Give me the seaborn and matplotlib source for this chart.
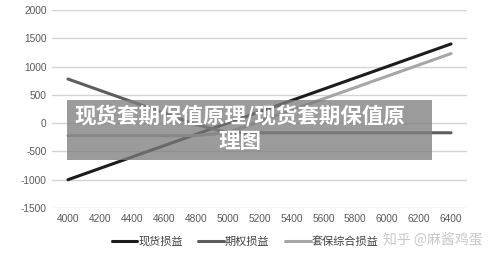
import matplotlib
matplotlib.use("Agg")
import matplotlib.pyplot as plt
import seaborn as sns
import pandas as pd
from matplotlib.patches import Rectangle
from matplotlib.lines import Line2D

prices = [4000, 4200, 4400, 4600, 4800, 5000, 5200, 5400, 5600, 5800, 6000, 6200, 6400]
spot_pnl = [-1000, -800, -600, -400, -200, 0, 200, 400, 600, 800, 1000, 1200, 1400]
option_pnl = [780, 580, 380, 180, -20, -170, -170, -170, -170, -170, -170, -170, -170]
hedge_pnl = [-220, -220, -220, -220, -220, -170, 30, 230, 430, 630, 830, 1030, 1230]
series_names = ["现货损益", "期权损益", "套保综合损益"]
colors = ["#1c1c1c", "#5e5e5e", "#a6a6a6"]
yticks = [-1500, -1000, -500, 0, 500, 1000, 1500, 2000]

sns.set_theme(style="white")
plt.rcParams["font.family"] = ["Noto Sans CJK SC", "DejaVu Sans"]

rows = []
for name, vals in zip(series_names, [spot_pnl, option_pnl, hedge_pnl]):
    for i, v in enumerate(vals):
        rows.append({"idx": i, "value": v, "series": name})
df = pd.DataFrame(rows)

fig = plt.figure(figsize=(5, 2.6), dpi=100)
ax = fig.add_axes([0.104, 0.2, 0.83, 0.7615])

for y in yticks:
    ax.axhline(y, color="#d4d4d4", lw=1.0, zorder=0)

sns.lineplot(data=df, x="idx", y="value", hue="series", hue_order=series_names,
             palette=colors, linewidth=2.2, ax=ax, legend=False, zorder=3)

ax.set_xlim(-0.5, len(prices) - 0.5)
ax.set_ylim(-1500, 2000)
ax.set_xticks(range(len(prices)))
ax.set_xticklabels([str(p) for p in prices])
ax.set_yticks(yticks)
ax.set_yticklabels([str(t) for t in yticks])
for lab in ax.get_xticklabels() + ax.get_yticklabels():
    lab.set_family(["Liberation Sans", "DejaVu Sans"])
    lab.set_fontsize(7.3)
    lab.set_color("#595959")
ax.tick_params(axis="both", length=0, pad=4)
ax.set_xlabel("")
ax.set_ylabel("")
for s in ax.spines.values():
    s.set_visible(False)

handles = [Line2D([], [], color=c, lw=2.2) for c in colors]
leg = fig.legend(handles, series_names, loc="center", bbox_to_anchor=(0.49, 0.073),
                 ncol=3, frameon=False, fontsize=8, handlelength=2.3,
                 handletextpad=0.1, columnspacing=1.4)
for t in leg.get_texts():
    t.set_color("#404040")

# overlay banner
fig.patches.append(Rectangle((67 / 500, 1 - 160 / 260), (432 - 67) / 500, 60 / 260,
                             transform=fig.transFigure, facecolor="#7f7f7f",
                             alpha=0.78, edgecolor="none", zorder=10))
fig.text(240 / 500, 1 - 116 / 260, "现货套期保值原理/现货套期保值原", color="white",
         fontsize=15.5, fontweight="bold", ha="center", va="center", zorder=11)
fig.text(240 / 500, 1 - 142 / 260, "理图", color="white",
         fontsize=15.5, fontweight="bold", ha="center", va="center", zorder=11)

fig.text(433 / 500, 1 - 240 / 260, "知乎 @麻酱鸡蛋", color="#c8c8c8",
         fontsize=10, ha="center", va="center", zorder=11)

fig.savefig("out.png", dpi=100)
